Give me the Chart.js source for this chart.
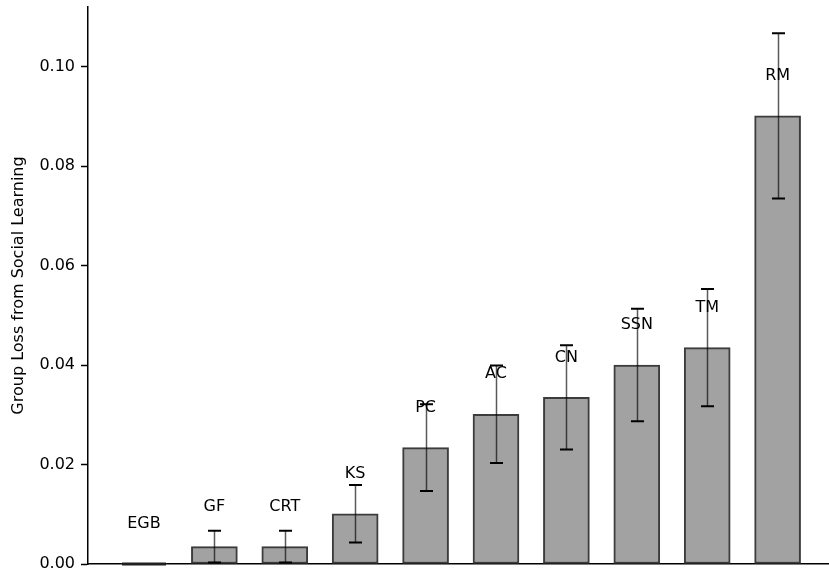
<!DOCTYPE html>
<html>
<head>
<meta charset="utf-8">
<script src="https://cdn.jsdelivr.net/npm/chart.js@4/dist/chart.umd.min.js"></script>
<style>
html,body{margin:0;padding:0;background:#fff;}
#wrap{width:829px;height:576px;position:relative;}
</style>
</head>
<body>
<div id="wrap"><canvas id="c" width="829" height="576"></canvas></div>
<script>
const categories = ['EGB','GF','CRT','KS','PC','AC','CN','SSN','TM','RM'];
const values = [0, 0.0035, 0.0035, 0.0101, 0.0234, 0.0301, 0.0335, 0.0400, 0.0435, 0.0901];
const errors = [0, 0.0032, 0.0032, 0.0058, 0.0087, 0.0098, 0.0105, 0.0113, 0.0118, 0.0166];
const yTicks = [0, 0.02, 0.04, 0.06, 0.08, 0.10];
const yTitle = 'Group Loss from Social Learning';

const FONT = "'DejaVu Sans', sans-serif";

const overlay = {
  id: 'overlay',
  afterDatasetsDraw(chart) {
    const ctx = chart.ctx;
    const xs = chart.scales.x, ys = chart.scales.y;
    ctx.save();
    // zero-height bar edges
    values.forEach((v, i) => {
      if (v === 0) {
        const cx = xs.getPixelForValue(i);
        ctx.strokeStyle = '#202020';
        ctx.lineWidth = 3;
        ctx.beginPath();
        ctx.moveTo(cx - 22, ys.getPixelForValue(0));
        ctx.lineTo(cx + 22, ys.getPixelForValue(0));
        ctx.stroke();
      }
    });
    // labels
    ctx.font = '16px ' + FONT;
    ctx.fillStyle = '#000';
    ctx.textAlign = 'center';
    ctx.textBaseline = 'middle';
    categories.forEach((c, i) => {
      const cx = xs.getPixelForValue(i);
      const top = ys.getPixelForValue(values[i]);
      ctx.fillText(c, cx, top - 40);
    });
    // error bars
    values.forEach((v, i) => {
      const e = errors[i];
      if (!e) return;
      const cx = Math.round(xs.getPixelForValue(i)) + 0.5;
      const yHi = ys.getPixelForValue(v + e);
      const yLo = ys.getPixelForValue(v - e);
      ctx.strokeStyle = 'rgba(0,0,0,0.65)';
      ctx.lineWidth = 1.5;
      ctx.beginPath();
      ctx.moveTo(cx, yHi);
      ctx.lineTo(cx, yLo);
      ctx.stroke();
      ctx.strokeStyle = '#000';
      ctx.lineWidth = 2;
      ctx.beginPath();
      ctx.moveTo(cx - 6.5, yHi); ctx.lineTo(cx + 6.5, yHi);
      ctx.moveTo(cx - 6.5, yLo); ctx.lineTo(cx + 6.5, yLo);
      ctx.stroke();
    });
    ctx.restore();
  }
};

new Chart(document.getElementById('c'), {
  type: 'bar',
  data: {
    datasets: [{
      data: values.map((v, i) => ({x: i, y: v})),
      backgroundColor: '#a2a2a2',
      borderColor: '#3c3c3c',
      borderWidth: 2,
      borderSkipped: false,
      barThickness: 46
    }]
  },
  options: {
    responsive: false,
    animation: false,
    events: [],
    layout: {padding: {top: 7, right: 0, left: 0, bottom: 0}},
    plugins: {legend: {display: false}, tooltip: {enabled: false}},
    scales: {
      x: {
        type: 'linear',
        min: -0.795,
        max: 9.73,
        offset: false,
        ticks: {display: false},
        grid: {display: false, drawTicks: false},
        border: {display: true, color: '#000', width: 1.5},
        afterFit(s) { s.height = 12; s.paddingLeft = 0; s.paddingRight = 0; }
      },
      y: {
        min: 0,
        max: 0.112,
        afterBuildTicks(s) { s.ticks = yTicks.map(v => ({value: v})); },
        ticks: {
          color: '#000',
          font: {family: FONT, size: 16},
          padding: 6,
          callback: v => Number(v).toFixed(2)
        },
        grid: {display: true, drawOnChartArea: false, drawTicks: true, tickLength: 7, tickColor: '#000', tickWidth: 1.5},
        border: {display: true, color: '#000', width: 1.5},
        title: {
          display: true,
          text: yTitle,
          color: '#000',
          font: {family: FONT, size: 16},
          padding: {top: 9, bottom: 0}
        },
        afterFit(s) { s.width = 88; s.paddingTop = 0; s.paddingBottom = 0; }
      }
    }
  },
  plugins: [overlay]
});
</script>
</body>
</html>
